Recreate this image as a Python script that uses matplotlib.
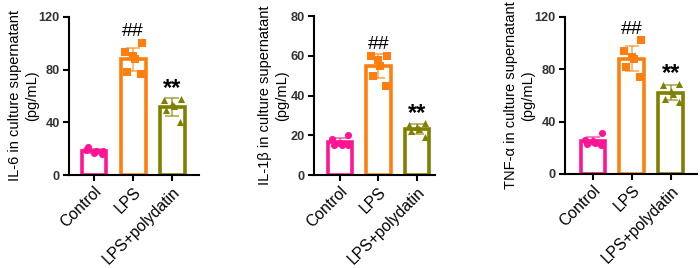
import matplotlib
matplotlib.use("Agg")
import matplotlib.pyplot as plt
import numpy as np

plt.rcParams['font.family'] = ['Liberation Sans', 'DejaVu Sans']

groups = ["Control", "LPS", "LPS+polydatin"]
colors = ["#ff1493", "#ff7f0e", "#808000"]
markers = ["o", "s", "^"]

# values (6 replicates per group)
il6 = [[18, 19, 17, 18, 21, 16],
       [100, 93, 90, 88, 78, 77],
       [58, 57, 54, 52, 49, 40]]
il1b = [[20, 18, 16, 15, 15, 15],
        [60, 60, 58, 55, 50, 45],
        [26, 25, 24, 23, 22, 19]]
tnfa = [[31, 26, 25, 24, 23, 22],
        [102, 94, 89, 88, 82, 74],
        [69, 68, 63, 61, 57, 55]]

ylabels = ["IL-6 in culture supernatant\n(pg/mL)",
           "IL-1\u03b2 in culture supernatant\n(pg/mL)",
           "TNF-\u03b1 in culture supernatant\n(pg/mL)"]
ymax = [120, 80, 120]
yticks = [[0, 40, 80, 120], [0, 20, 40, 60, 80], [0, 40, 80, 120]]
marks = ["", "##", "**"]

# axes boxes in figure coords and x limits per panel
boxes = [[0.0986, 0.347, 0.1857, 0.590],
         [0.4486, 0.347, 0.1728, 0.593],
         [0.8071, 0.351, 0.1886, 0.586]]
xlims = [(-0.64, 2.69), (-0.67, 2.47), (-0.72, 2.67)]
# offset (px) of the y label's right edge from the y axis
label_off = [-30, -25, -30]

jitter = [0.22, -0.2, 0.0, 0.05, -0.15, 0.2]

fig = plt.figure(figsize=(7, 2.68), dpi=100)

for p, data in enumerate([il6, il1b, tnfa]):
    ax = fig.add_axes(boxes[p])
    for i, vals in enumerate(data):
        vals = np.array(vals, dtype=float)
        m = vals.mean()
        sd = vals.std(ddof=1)
        ax.bar(i, m, width=0.64, facecolor="white", edgecolor=colors[i],
               linewidth=2.6, zorder=2)
        ax.errorbar(i, m, yerr=sd, color=colors[i], alpha=0.6, capsize=5,
                    elinewidth=1.3, capthick=1.3, zorder=3)
        ax.scatter(i + np.array(jitter), vals, marker=markers[i], s=26,
                   color=colors[i], zorder=4, linewidths=0)
        if marks[i] == "##":
            ax.annotate(marks[i], (i, vals.max()), xytext=(0, 2),
                        textcoords="offset points", ha="center", va="bottom",
                        fontsize=14, color="black")
        elif marks[i]:
            ax.annotate(marks[i], (i, vals.max()), xytext=(0, -1),
                        textcoords="offset points", ha="center", va="bottom",
                        fontsize=17, fontweight="bold", color="black")
    ax.set_xlim(*xlims[p])
    ax.set_ylim(0, ymax[p])
    ax.set_yticks(yticks[p])
    ax.set_xticks(range(3))
    ax.set_xticklabels(groups, rotation=45, ha="right", rotation_mode="anchor",
                       fontsize=11.3)
    for lab in ax.get_yticklabels():
        lab.set_fontweight("bold")
        lab.set_color("#333333")
        lab.set_fontsize(9.2)
    ax.set_ylabel(ylabels[p], fontsize=10.5, linespacing=1.3)
    ax.yaxis.set_label_coords(label_off[p] / (boxes[p][2] * 700), 0.5)
    ax.spines["top"].set_visible(False)
    ax.spines["right"].set_visible(False)
    ax.spines["left"].set_linewidth(1.5)
    ax.spines["bottom"].set_linewidth(1.5)
    ax.tick_params(width=1.5, length=4, pad=2.5)

plt.savefig("out.png", dpi=100)
